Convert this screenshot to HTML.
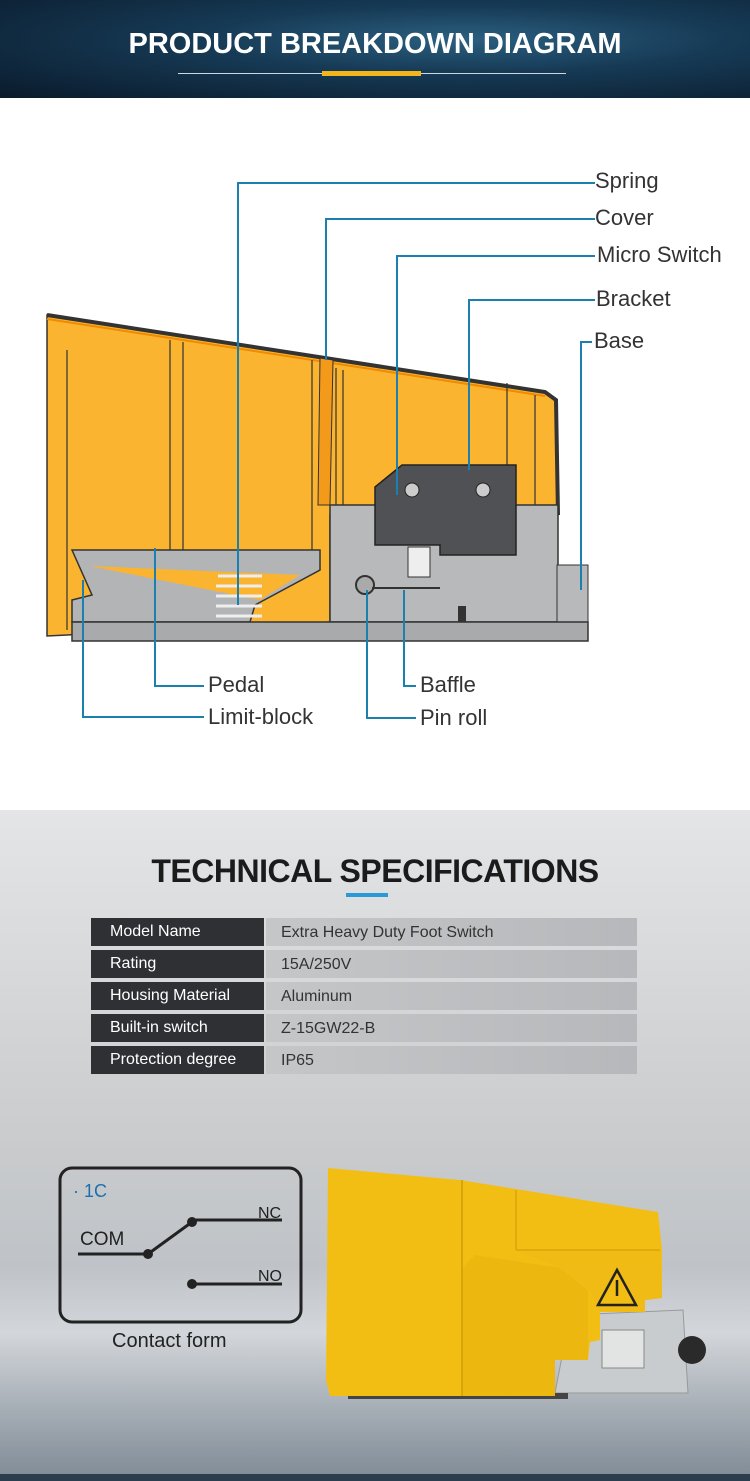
<!DOCTYPE html>
<html><head><meta charset="utf-8"><style>
*{margin:0;padding:0}
body{width:750px;height:1481px;overflow:hidden;font-family:"Liberation Sans",sans-serif;background:#fff;position:relative}
.hdr{position:absolute;left:0;top:0;width:750px;height:98px;background:radial-gradient(ellipse at 62% 40%,#2b5f80 0%,#163a55 40%,#0a1a2b 100%)}
.t1{position:absolute;top:28px;width:750px;text-align:center;color:#fff;font-weight:bold;font-size:29px}
.low{position:absolute;left:0;top:810px;width:750px;height:671px;background:linear-gradient(180deg,#e4e5e6 0%,#d6d8da 25%,#c9cbcd 50%,#bfc3c7 68%,#d3d6da 78%,#a3abb3 90%,#7f8a95 100%)}
.t2{position:absolute;top:853px;width:750px;text-align:center;color:#1b1b1b;font-weight:bold;font-size:32px;letter-spacing:-0.5px}
.row{position:absolute;left:91px;width:546px;height:28px}
.row .a{position:absolute;left:0;top:0;width:173px;height:28px;background:#2e3034;color:#fff;font-size:16px;line-height:28px;text-indent:19px}
.row .b{position:absolute;left:175px;top:0;width:371px;height:28px;background:linear-gradient(90deg,#c4c6c8,#b6b8bb);color:#333;font-size:16px;line-height:30px;text-indent:15px}
.lbl{position:absolute;font-size:22px;color:#333}
</style></head><body>
<div class="hdr"></div>
<div class="t1">PRODUCT BREAKDOWN DIAGRAM</div>
<div style="position:absolute;left:178px;top:73px;width:388px;height:1px;background:#cfd6dc"></div>
<div style="position:absolute;left:322px;top:71px;width:99px;height:5px;background:#f2b51c"></div>

<svg style="position:absolute;left:0;top:98px" width="750" height="712" viewBox="0 98 750 712">
<polygon points="47,315 545,392 556,400 558,515 330,515 330,622 47,636" fill="#fbb430" stroke="#333" stroke-width="1.5"/>
<polyline points="47,315 545,392 556,400 558,515" fill="none" stroke="#333" stroke-width="4"/>
<line x1="47" y1="319" x2="545" y2="396" stroke="#f08a00" stroke-width="2"/>
<g stroke="#333" stroke-width="1.2" fill="none">
<line x1="67" y1="350" x2="67" y2="630"/><line x1="170" y1="340" x2="170" y2="620"/><line x1="183" y1="342" x2="183" y2="620"/>
<line x1="312" y1="360" x2="312" y2="560"/><line x1="336" y1="368" x2="336" y2="505"/><line x1="343" y1="370" x2="343" y2="505"/>
<line x1="507" y1="383" x2="507" y2="505"/><line x1="535" y1="395" x2="535" y2="505"/>
</g>
<polygon points="320,358 333,360 330,505 318,505" fill="#f39a1a" stroke="#333"/>
<polygon points="330,505 558,505 558,622 330,622" fill="#b8b9bb" stroke="#333" stroke-width="1.5"/>
<polygon points="72,550 320,550 320,570 255,605 250,622 72,622 72,600 92,595" fill="#b3b4b6" stroke="#333" stroke-width="1.5"/>
<polygon points="90,566 300,575 260,600" fill="#fbb430" stroke="none"/>
<polygon points="375,487 402,465 516,465 516,555 440,555 440,545 375,545" fill="#505154" stroke="#222" stroke-width="1.5"/>
<circle cx="412" cy="490" r="7" fill="#ccc" stroke="#222"/><circle cx="483" cy="490" r="7" fill="#ccc" stroke="#222"/>
<rect x="408" y="547" width="22" height="30" fill="#eee" stroke="#333"/>
<circle cx="365" cy="585" r="9" fill="#aaa" stroke="#333" stroke-width="2"/>
<line x1="372" y1="588" x2="440" y2="588" stroke="#333" stroke-width="2"/>
<rect x="458" y="606" width="8" height="28" fill="#333"/>
<g stroke="#eee" stroke-width="3"><line x1="218" y1="576" x2="262" y2="576"/><line x1="216" y1="586" x2="262" y2="586"/><line x1="216" y1="596" x2="262" y2="596"/><line x1="216" y1="606" x2="262" y2="606"/><line x1="216" y1="616" x2="262" y2="616"/></g>
<rect x="557" y="565" width="31" height="57" fill="#b8b9bb" stroke="#333"/>
<rect x="72" y="622" width="516" height="19" fill="#a9aaac" stroke="#333" stroke-width="1.5"/>
<g stroke="#1b7fb0" stroke-width="2" fill="none">
<polyline points="595,183 238,183 238,605"/>
<polyline points="595,219 326,219 326,360"/>
<polyline points="595,256 397,256 397,495"/>
<polyline points="595,300 469,300 469,470"/>
<polyline points="592,342 581,342 581,590"/>
<polyline points="155,548 155,686 204,686"/>
<polyline points="83,580 83,717 204,717"/>
<polyline points="404,590 404,686 416,686"/>
<polyline points="367,590 367,718 416,718"/>
</g>
</svg>
<div class="lbl" style="left:595px;top:168px">Spring</div>
<div class="lbl" style="left:595px;top:205px">Cover</div>
<div class="lbl" style="left:597px;top:242px">Micro Switch</div>
<div class="lbl" style="left:596px;top:286px">Bracket</div>
<div class="lbl" style="left:594px;top:328px">Base</div>
<div class="lbl" style="left:208px;top:672px">Pedal</div>
<div class="lbl" style="left:208px;top:704px">Limit-block</div>
<div class="lbl" style="left:420px;top:672px">Baffle</div>
<div class="lbl" style="left:420px;top:705px">Pin roll</div>

<div class="low"></div>
<div class="t2">TECHNICAL SPECIFICATIONS</div>
<div style="position:absolute;left:346px;top:893px;width:42px;height:4px;background:#2a9ad6"></div>
<div class="row" style="top:918px"><div class="a">Model Name</div><div class="b">Extra Heavy Duty Foot Switch</div></div>
<div class="row" style="top:950px"><div class="a">Rating</div><div class="b">15A/250V</div></div>
<div class="row" style="top:982px"><div class="a">Housing Material</div><div class="b">Aluminum</div></div>
<div class="row" style="top:1014px"><div class="a">Built-in switch</div><div class="b">Z-15GW22-B</div></div>
<div class="row" style="top:1046px"><div class="a">Protection degree</div><div class="b">IP65</div></div>

<svg style="position:absolute;left:0;top:1140px" width="750" height="341" viewBox="0 1140 750 341">
<rect x="60" y="1168" width="241" height="154" rx="12" fill="none" stroke="#222" stroke-width="3"/>
<text x="73" y="1197" font-family="Liberation Sans" font-size="18" fill="#1e6fb0">· 1C</text>
<text x="80" y="1245" font-family="Liberation Sans" font-size="19" fill="#222">COM</text>
<text x="258" y="1218" font-family="Liberation Sans" font-size="16" fill="#222">NC</text>
<text x="258" y="1281" font-family="Liberation Sans" font-size="16" fill="#222">NO</text>
<g stroke="#222" stroke-width="3"><line x1="78" y1="1254" x2="148" y2="1254"/><line x1="148" y1="1254" x2="192" y2="1222"/><line x1="192" y1="1220" x2="282" y2="1220"/><line x1="192" y1="1284" x2="282" y2="1284"/></g>
<circle cx="148" cy="1254" r="5" fill="#222"/><circle cx="192" cy="1222" r="5" fill="#222"/><circle cx="192" cy="1284" r="5" fill="#222"/>
<text x="112" y="1347" font-family="Liberation Sans" font-size="20" fill="#222">Contact form</text>
<!-- product -->
<polygon points="570,1315 683,1310 688,1393 555,1393" fill="#c9ccce" stroke="#999"/>
<circle cx="692" cy="1350" r="14" fill="#2a2a2a"/>
<rect x="602" y="1330" width="42" height="38" fill="#e2e3e3" stroke="#888"/>
<rect x="348" y="1393" width="220" height="6" fill="#444"/>
<polygon points="328,1168 460,1180 565,1197 658,1212 662,1250 662,1298 645,1300 645,1312 600,1312 600,1340 590,1342 588,1360 555,1360 555,1396 330,1396 326,1380" fill="#f3be14"/>
<polygon points="462,1268 475,1255 560,1268 588,1290 588,1360 555,1360 555,1396 462,1396" fill="#ecb70f"/>
<polygon points="516,1250 660,1250 662,1298 645,1300 645,1312 600,1312 590,1290 560,1268" fill="#efbb14"/>
<line x1="462" y1="1180" x2="462" y2="1396" stroke="#d9a60a" stroke-width="2"/>
<line x1="516" y1="1190" x2="516" y2="1250" stroke="#d9a60a" stroke-width="1.5"/>
<line x1="516" y1="1250" x2="660" y2="1250" stroke="#d9a60a" stroke-width="1.5"/>
<polygon points="617,1270 598,1305 636,1305" fill="#f3be14" stroke="#222" stroke-width="2.5"/>
<line x1="617" y1="1280" x2="617" y2="1296" stroke="#222" stroke-width="2.5"/>
<rect x="0" y="1474" width="750" height="7" fill="#2b3d4c"/>
</svg>
</body></html>
